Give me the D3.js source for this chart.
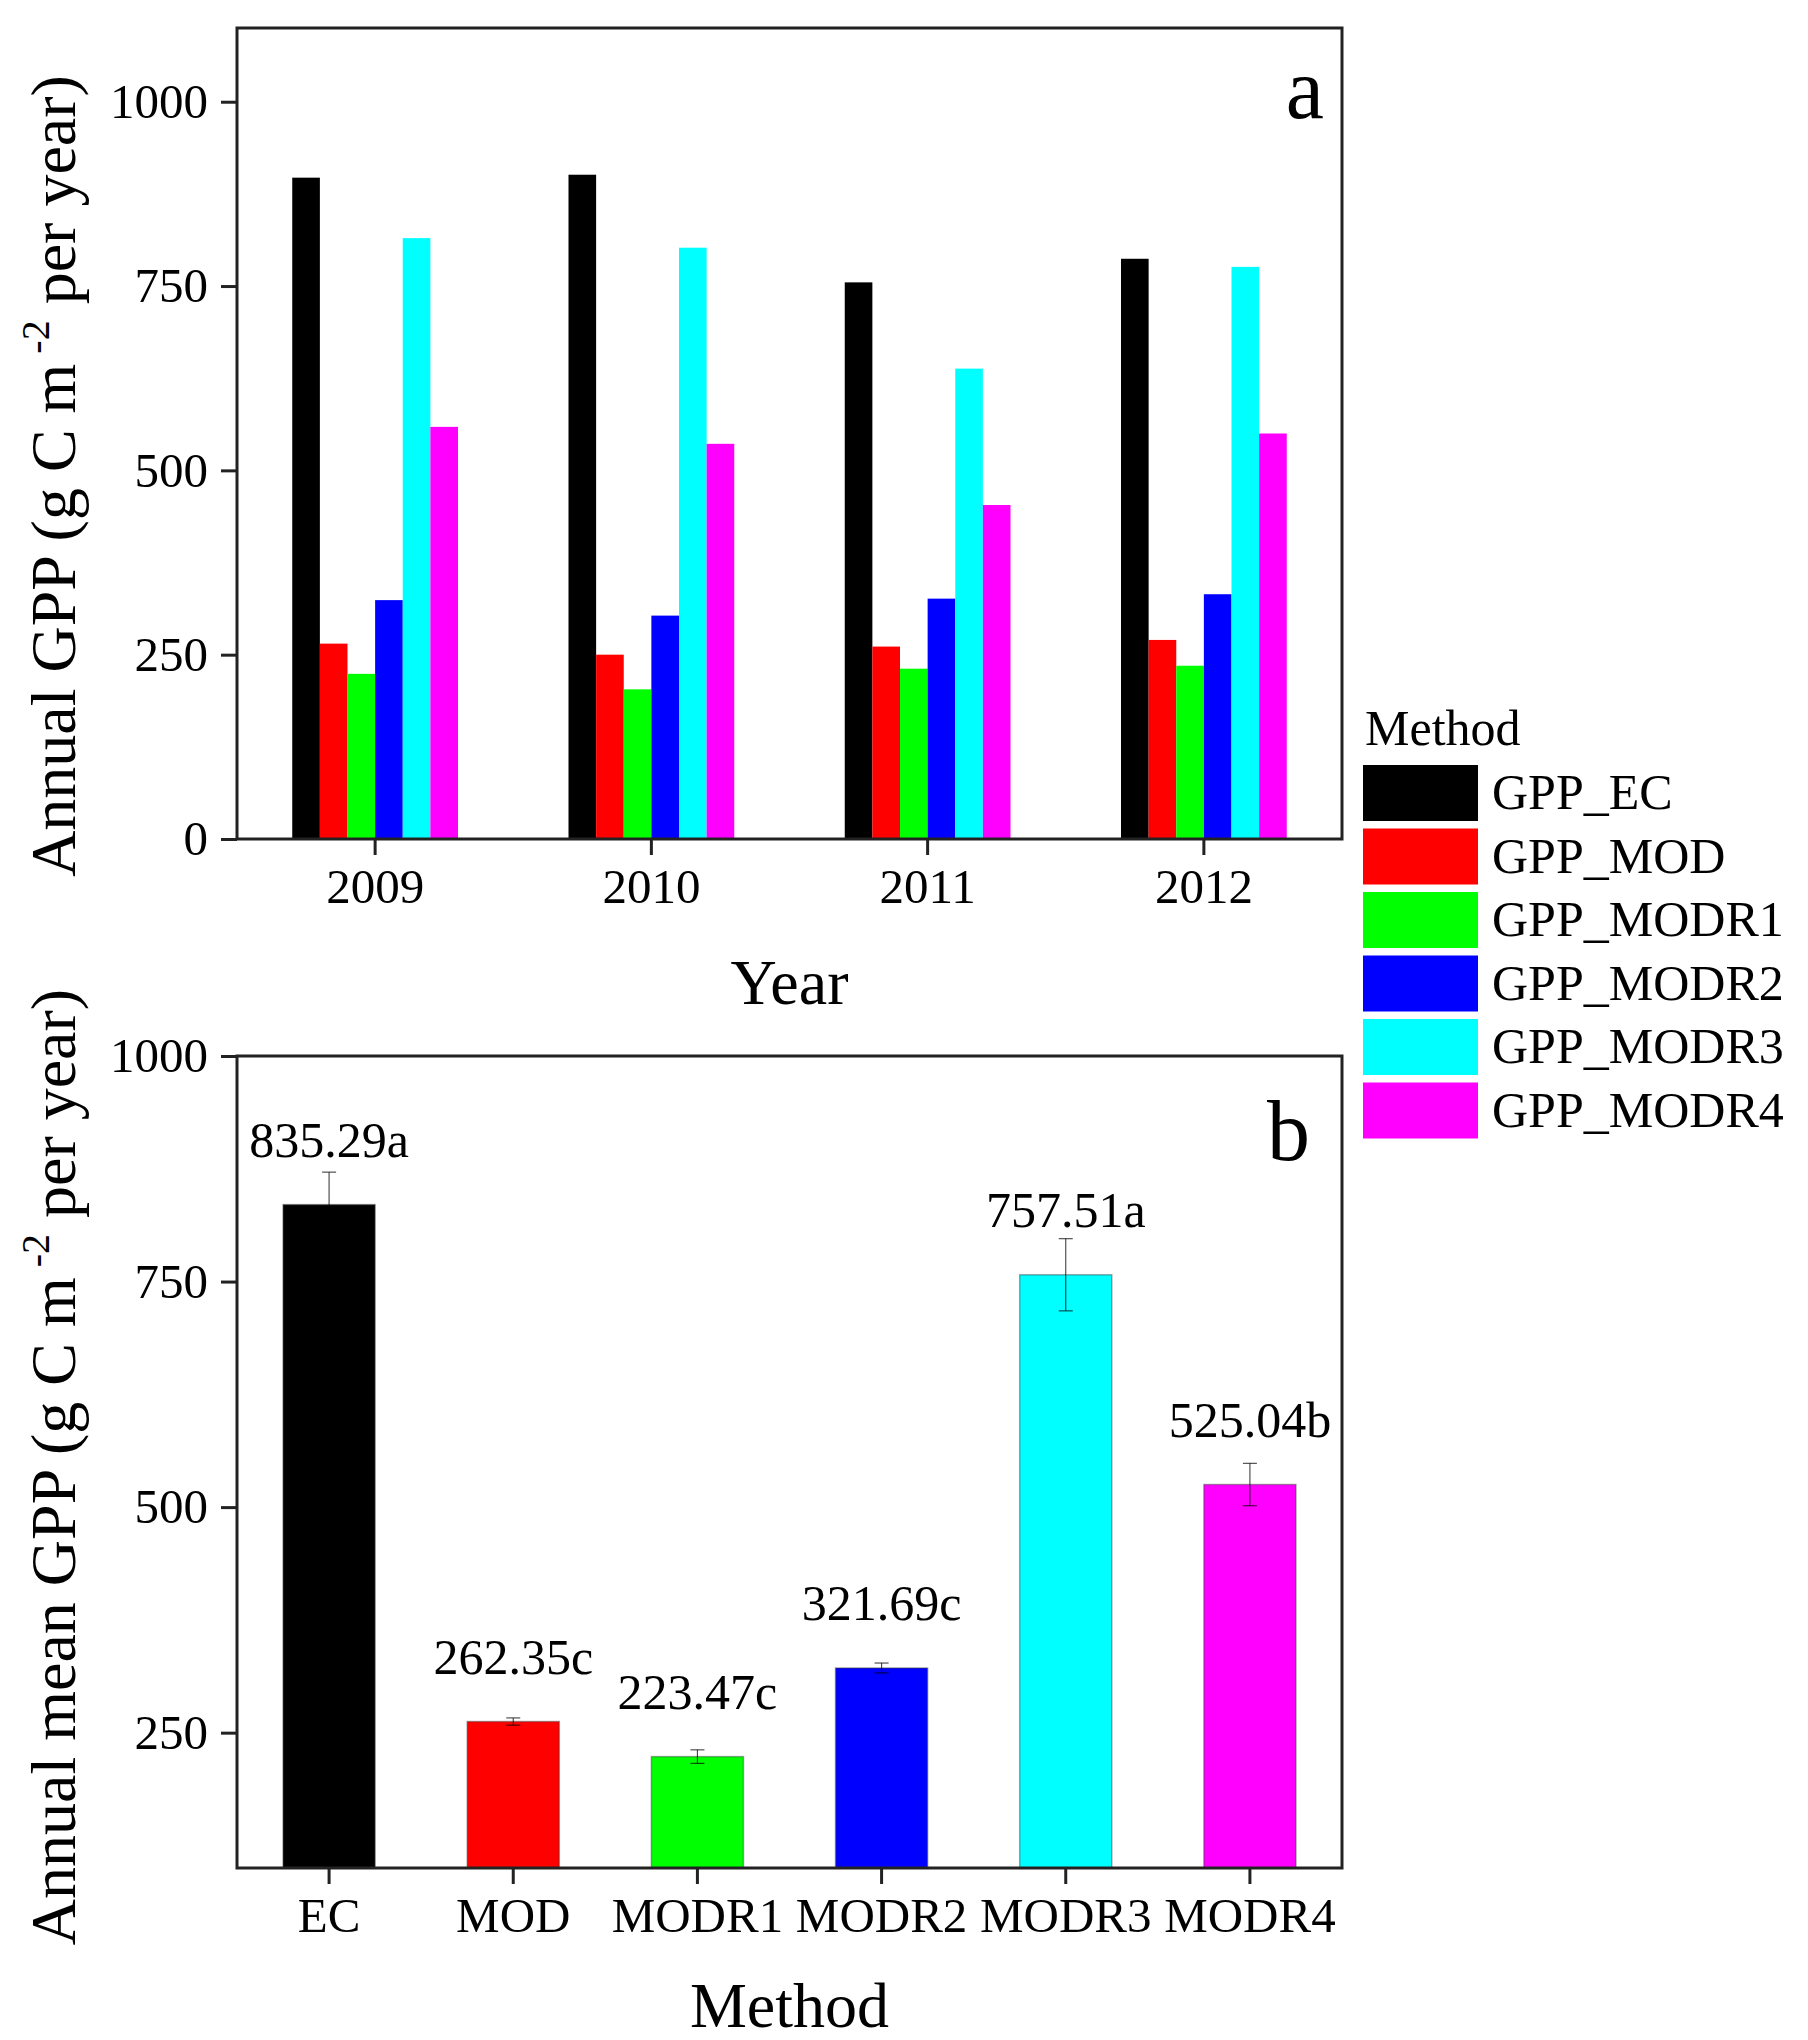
<!DOCTYPE html>
<html>
<head>
<meta charset="utf-8">
<script src="https://cdn.jsdelivr.net/npm/d3@7"></script>
<style>
  body { margin: 0; background: #fff; }
  svg { display: block; }
  text { font-family: "Liberation Serif", "Times New Roman", serif; fill: #000; }
</style>
</head>
<body>
<script>
// ---------- data ----------
const years = ["2009", "2010", "2011", "2012"];
const seriesNames = ["GPP_EC", "GPP_MOD", "GPP_MODR1", "GPP_MODR2", "GPP_MODR3", "GPP_MODR4"];
const seriesColors = ["#000000", "#ff0000", "#00ff00", "#0000ff", "#00ffff", "#ff00ff"];
const gppEC    = [897, 901, 755, 787];
const gppMOD   = [265, 250, 261, 270];
const gppMODR1 = [224, 203, 231, 235];
const gppMODR2 = [324, 303, 326, 332];
const gppMODR3 = [815, 802, 638, 776];
const gppMODR4 = [559, 536, 453, 550];
const yTicksA = [0, 250, 500, 750, 1000];

const methodLabels = ["EC", "MOD", "MODR1", "MODR2", "MODR3", "MODR4"];
const meanValues = [835.29, 262.35, 223.47, 321.69, 757.51, 525.04];
const meanErrors = [36, 4, 7.5, 5.5, 40, 23.5];
const meanLetters = ["a", "c", "c", "c", "a", "b"];
const yTicksB = [250, 500, 750, 1000];

// ---------- setup ----------
const W = 1808, H = 2040;
const svg = d3.select("body").append("svg").attr("width", W).attr("height", H);
const left = 237, right = 1342;
const tickFont = 49, labelFont = 50, titleFont = 64;

const allSeries = [gppEC, gppMOD, gppMODR1, gppMODR2, gppMODR3, gppMODR4];
const tableA = years.map((y, i) => ({ year: y, vals: seriesNames.map((s, j) => ({ key: s, value: allSeries[j][i] })) }));
const color = d3.scaleOrdinal().domain(seriesNames).range(seriesColors);

function styleAxis(g) {
  g.select(".domain").remove();
  g.selectAll(".tick line").attr("stroke", "#222").attr("stroke-width", 3);
  g.selectAll(".tick text").style("font-size", tickFont + "px")
    .style("font-family", '"Liberation Serif", "Times New Roman", serif').attr("fill", "#000");
}

function yTitle(cy, parts) {
  const t = svg.append("text")
    .attr("transform", `translate(75,${cy}) rotate(-90)`)
    .attr("text-anchor", "middle")
    .style("font-size", titleFont + "px");
  t.append("tspan").text(parts[0]);
  t.append("tspan").style("font-size", "40px").attr("dy", -26).text(" -2");
  t.append("tspan").attr("dy", 26).text(" per year)");
}

// ---------- panel a ----------
const topA = 28, botA = 839;
const xA = d3.scaleBand().domain(years).range([left, right]).paddingInner(0.4).paddingOuter(0.2);
const xA1 = d3.scaleBand().domain(seriesNames).range([0, xA.bandwidth()]).padding(0);
const yA = d3.scaleLinear().domain([0, 1100]).range([botA, topA]);

const gA = svg.append("g");
gA.selectAll("g.grp").data(tableA).join("g")
  .attr("class", "grp")
  .attr("transform", d => `translate(${xA(d.year)},0)`)
  .selectAll("rect").data(d => d.vals).join("rect")
  .attr("x", d => xA1(d.key))
  .attr("width", xA1.bandwidth())
  .attr("y", d => yA(d.value))
  .attr("height", d => yA(0) - yA(d.value))
  .attr("fill", d => color(d.key));

svg.append("g").attr("transform", `translate(${left},0)`)
  .call(d3.axisLeft(yA).tickValues(yTicksA).tickSize(16).tickPadding(13).tickFormat(d3.format("d")))
  .call(styleAxis);
svg.append("g").attr("transform", `translate(0,${botA})`)
  .call(d3.axisBottom(xA).tickSize(16).tickPadding(13))
  .call(styleAxis);
svg.append("rect").attr("x", left).attr("y", topA).attr("width", right - left).attr("height", botA - topA)
  .attr("fill", "none").attr("stroke", "#222").attr("stroke-width", 3);

svg.append("text").attr("x", 1324).attr("y", 118).attr("text-anchor", "end")
  .style("font-size", "86px").text("a");
svg.append("text").attr("x", (left + right) / 2).attr("y", 1004).attr("text-anchor", "middle")
  .style("font-size", titleFont + "px").text("Year");
yTitle(476, ["Annual GPP (g C m"]);

// ---------- panel b ----------
const topB = 1056, botB = 1868;
const xB = d3.scaleBand().domain(methodLabels).range([left, right]).paddingInner(0.5).paddingOuter(0.25);
const yB = d3.scaleLinear().domain([100, 1000]).range([botB, topB]);
const tableB = methodLabels.map((m, i) => ({ m, v: meanValues[i], e: meanErrors[i], lab: meanValues[i].toFixed(2) + meanLetters[i], c: seriesColors[i] }));

const gB = svg.append("g");
gB.selectAll("rect").data(tableB).join("rect")
  .attr("x", d => xB(d.m))
  .attr("width", xB.bandwidth())
  .attr("y", d => yB(d.v))
  .attr("height", d => yB(100) - yB(d.v))
  .attr("fill", d => d.c)
  .attr("stroke", "rgba(60,60,60,0.45)").attr("stroke-width", 1.5);

const eb = gB.selectAll("g.err").data(tableB).join("g").attr("class", "err")
  .attr("transform", d => `translate(${xB(d.m) + xB.bandwidth() / 2},0)`);
const errColor = "#000";
eb.append("line").attr("y1", d => yB(d.v - d.e)).attr("y2", d => yB(d.v + d.e))
  .attr("stroke", errColor).attr("stroke-width", 1.1).attr("stroke-opacity", 0.75);
eb.append("line").attr("x1", -7).attr("x2", 7).attr("y1", d => yB(d.v + d.e)).attr("y2", d => yB(d.v + d.e))
  .attr("stroke", errColor).attr("stroke-width", 1.1).attr("stroke-opacity", 0.75);
eb.append("line").attr("x1", -7).attr("x2", 7).attr("y1", d => yB(d.v - d.e)).attr("y2", d => yB(d.v - d.e))
  .attr("stroke", errColor).attr("stroke-width", 1.1).attr("stroke-opacity", 0.75);

gB.selectAll("text.val").data(tableB).join("text").attr("class", "val")
  .attr("x", d => xB(d.m) + xB.bandwidth() / 2)
  .attr("y", d => yB(d.v) - 48)
  .attr("text-anchor", "middle")
  .style("font-size", labelFont + "px")
  .text(d => d.lab);

svg.append("g").attr("transform", `translate(${left},0)`)
  .call(d3.axisLeft(yB).tickValues(yTicksB).tickSize(16).tickPadding(13).tickFormat(d3.format("d")))
  .call(styleAxis);
svg.append("g").attr("transform", `translate(0,${botB})`)
  .call(d3.axisBottom(xB).tickSize(16).tickPadding(13))
  .call(styleAxis);
svg.append("rect").attr("x", left).attr("y", topB).attr("width", right - left).attr("height", botB - topB)
  .attr("fill", "none").attr("stroke", "#222").attr("stroke-width", 3);

svg.append("text").attr("x", 1310).attr("y", 1160).attr("text-anchor", "end")
  .style("font-size", "86px").text("b");
svg.append("text").attr("x", (left + right) / 2).attr("y", 2027).attr("text-anchor", "middle")
  .style("font-size", titleFont + "px").text("Method");
yTitle(1467, ["Annual mean GPP (g C m"]);

// ---------- legend ----------
const leg = svg.append("g");
leg.append("text").attr("x", 1365).attr("y", 745).style("font-size", labelFont + "px").text("Method");
const li = leg.selectAll("g.li").data(seriesNames).join("g").attr("class", "li")
  .attr("transform", (d, i) => `translate(1363,${765 + i * 63.5})`);
li.append("rect").attr("width", 115).attr("height", 56).attr("fill", d => color(d));
li.append("text").attr("x", 129).attr("y", 44).style("font-size", labelFont + "px").text(d => d);
</script>
</body>
</html>
